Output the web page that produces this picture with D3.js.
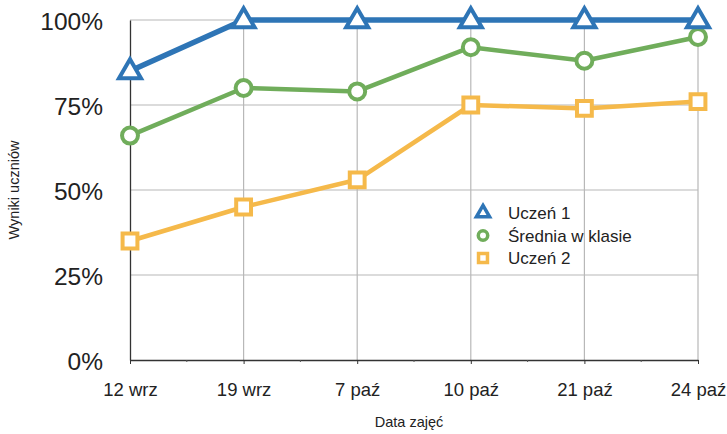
<!DOCTYPE html>
<html><head><meta charset="utf-8">
<script src="https://cdn.jsdelivr.net/npm/d3@7"></script>
<style>body{margin:0;background:#fff}svg{display:block}text{font-family:"Liberation Sans",Arial,sans-serif;fill:#222}</style>
</head><body><svg id="c" width="727" height="434"></svg>
<script>
const categories = ["12 wrz","19 wrz","7 paź","10 paź","21 paź","24 paź"];
const uczen1 = [85,100,100,100,100,100];
const srednia = [66,80,79,92,88,95];
const uczen2 = [35,45,53,75,74,76];
const yTicks = [0,25,50,75,100];
const seriesNames = ["Uczeń 1","Średnia w klasie","Uczeń 2"];
const colors = ["#2e75b6","#70ad5b","#f5b94a"];
const symbols = ["triangle","circle","square"];

const svg = d3.select("#c");
const L=130,R=698,T=20,B=360;
const x = d3.scalePoint().domain(categories).range([L,R]);
const y = d3.scaleLinear().domain([0,100]).range([B,T]);

// gridlines
svg.append("g").selectAll("line").data(yTicks.filter(d=>d>0)).join("line")
 .attr("x1",L).attr("x2",R).attr("y1",d=>y(d)).attr("y2",d=>y(d))
 .attr("stroke","#b8b8b8").attr("stroke-width",1.2);
svg.append("g").selectAll("line").data(categories.slice(1)).join("line")
 .attr("x1",d=>x(d)).attr("x2",d=>x(d)).attr("y1",T).attr("y2",B)
 .attr("stroke","#b8b8b8").attr("stroke-width",1.2);

// y axis
const ya = svg.append("g").attr("transform",`translate(${L},0)`)
 .call(d3.axisLeft(y).tickValues(yTicks).tickFormat(d=>d+"%").tickSize(0).tickPadding(27));
ya.select(".domain").attr("stroke","#333").attr("stroke-width",1.3);
ya.selectAll("text").style("font-size","24.5px").attr("fill","#222").attr("dy","0.38em");

// x axis
const xa = svg.append("g").attr("transform",`translate(0,${B})`)
 .call(d3.axisBottom(x).tickSizeInner(4).tickSizeOuter(0).tickPadding(19));
xa.select(".domain").attr("stroke","#333").attr("stroke-width",1.3);
xa.selectAll("line").attr("stroke","#333");
xa.selectAll("text").style("font-size","18.5px").attr("fill","#222");
// minor ticks
const step = x.step();
svg.append("g").selectAll("line").data(categories.slice(1)).join("line")
 .attr("x1",d=>x(d)-step/2).attr("x2",d=>x(d)-step/2).attr("y1",B).attr("y2",B+2)
 .attr("stroke","#555");

svg.append("text").attr("x",409).attr("y",427).attr("text-anchor","middle").style("font-size","14.5px").text("Data zajęć");
svg.append("text").attr("transform","translate(19,190) rotate(-90)").attr("text-anchor","middle").style("font-size","14.5px").text("Wyniki uczniów");

const data = [uczen1,srednia,uczen2];
const symType = {triangle:d3.symbolTriangle,circle:d3.symbolCircle,square:d3.symbolSquare};
const symSize = {triangle:210,circle:200,square:220};
const line = d3.line().x((d,i)=>x(categories[i])).y(d=>y(d));
[2,1,0].forEach(k=>{
  svg.append("path").datum(data[k]).attr("d",line).attr("fill","none")
   .attr("stroke",colors[k]).attr("stroke-width",k===0?5.5:4.5).attr("stroke-linejoin","round");
});
[2,1,0].forEach(k=>{
  svg.append("g").selectAll("path").data(data[k]).join("path")
   .attr("transform",(d,i)=>`translate(${x(categories[i])},${y(d)+(symbols[k]==="triangle"?1:0)})`)
   .attr("d",d3.symbol().type(symType[symbols[k]]).size(symSize[symbols[k]]))
   .attr("fill","#fff").attr("stroke",colors[k]).attr("stroke-width",4);
});

// legend
const lg = svg.append("g");
seriesNames.forEach((n,k)=>{
  const yy = 213 + k*22.5;
  lg.append("path").attr("transform",`translate(483,${yy})`)
   .attr("d",d3.symbol().type(symType[symbols[k]]).size(symbols[k]==="triangle"?75:symbols[k]==="circle"?70:80))
   .attr("fill","#fff").attr("stroke",colors[k]).attr("stroke-width",3.5);
  lg.append("text").attr("x",508).attr("y",yy).attr("dy","0.36em").style("font-size","17px").text(n);
});
</script></body></html>
